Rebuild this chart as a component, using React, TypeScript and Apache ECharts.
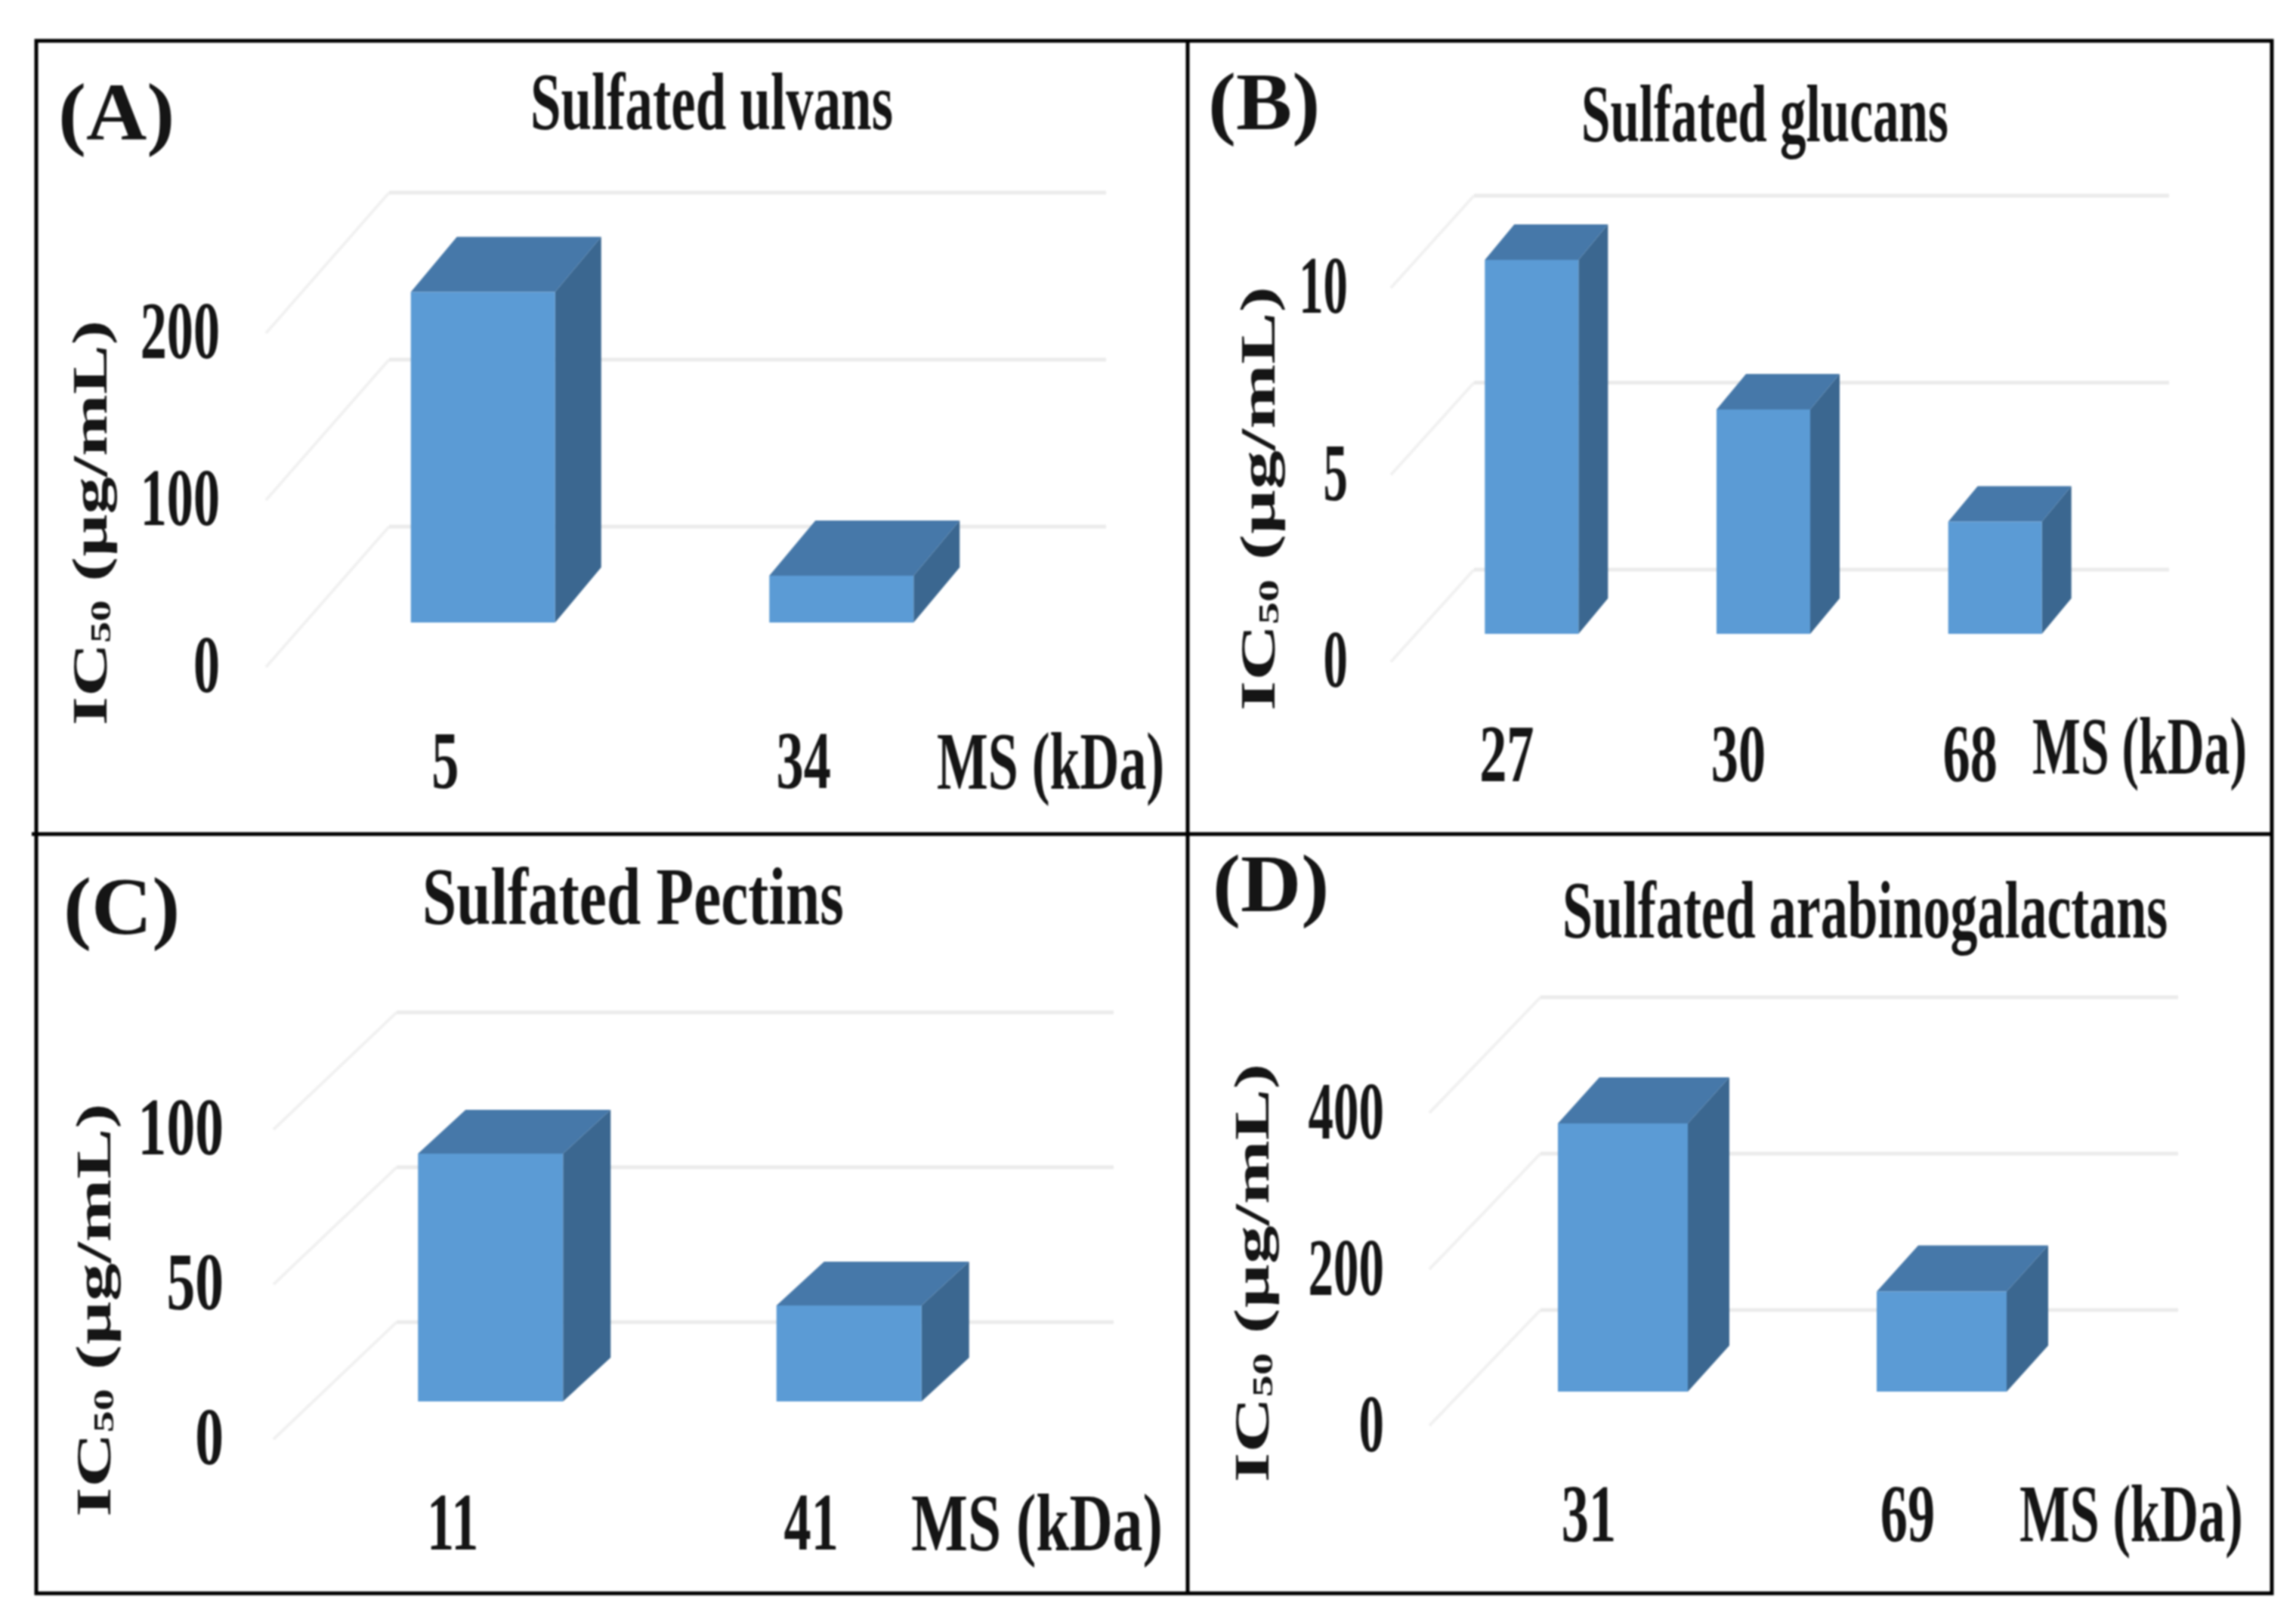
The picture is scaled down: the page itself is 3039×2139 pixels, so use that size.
import React, { useEffect, useRef } from "react";
import * as echarts from "echarts";

const categoriesA = ["5", "34"];
const valuesA = [198, 28];
const ticksA = [0, 100, 200];
const categoriesB = ["27", "30", "68"];
const valuesB = [10, 6, 3];
const ticksB = [0, 5, 10];
const categoriesC = ["11", "41"];
const valuesC = [80, 31];
const ticksC = [0, 50, 100];
const categoriesD = ["31", "69"];
const valuesD = [343, 128];
const ticksD = [0, 200, 400];

const titles = ["Sulfated ulvans", "Sulfated glucans", "Sulfated Pectins", "Sulfated arabinogalactans"];
const letters = ["(A)", "(B)", "(C)", "(D)"];
const xAxisName = "MS (kDa)";

const FONT = '"Liberation Serif"';
const INK = "#151515";
const FRONT = "#5B9BD5";
const TOP = "#4678A9";
const SIDE = "#3B6790";
const GRID = "#EBEBEB";
const GRID_DIAG = "#F1F1F1";

const layouts = [
  { categories: categoriesA, values: valuesA, ticks: ticksA, left: 352, top: 441, width: 949, height: 442, wallX: 163, wallY: -186, offX: 50, offY: -59, barW: 191, depthX: 61, depthY: -73, tickRight: 291, tickScale: 0.65, xBase: 1039, letterX: 77, letterY: 149, titleX: 702, titleBase: 167, titleScale: 0.675, msX: 1240, msBase: 1040, msScale: 0.665, nameX: 119, nameY: 692, nameScale: 1.49 },
  { categories: categoriesB, values: valuesB, ticks: ticksB, left: 1841, top: 381, width: 920, height: 495, wallX: 110, wallY: -122, offX: 33, offY: -37, barW: 124, depthX: 39, depthY: -47, tickRight: 1784, tickScale: 0.6, xBase: 1030, letterX: 1599, letterY: 135, titleX: 2093, titleBase: 183, titleScale: 0.64, msX: 2690, msBase: 1020, msScale: 0.627, nameX: 1665, nameY: 660, nameScale: 1.56 },
  { categories: categoriesC, values: valuesC, ticks: ticksC, left: 362, top: 1495, width: 949, height: 410, wallX: 163, wallY: -155, offX: 50, offY: -50, barW: 192, depthX: 63, depthY: -58, tickRight: 296, tickScale: 0.7, xBase: 2047, letterX: 84, letterY: 1200, titleX: 559, titleBase: 1219, titleScale: 0.753, msX: 1206, msBase: 2048, msScale: 0.735, nameX: 123, nameY: 1734, nameScale: 1.52 },
  { categories: categoriesD, values: valuesD, ticks: ticksD, left: 1892, top: 1473, width: 844, height: 414, wallX: 147, wallY: -153, offX: 45, offY: -45, barW: 172, depthX: 55, depthY: -61, tickRight: 1832, tickScale: 0.62, xBase: 2036, letterX: 1605, letterY: 1170, titleX: 2068, titleBase: 1237, titleScale: 0.666, msX: 2673, msBase: 2036, msScale: 0.653, nameX: 1657, nameY: 1685, nameScale: 1.54 },
];

const TEXT_FS = 108;
const TICK_LIFT = 3;
const midY = (base: number) => base - TEXT_FS * 0.3;

function label(text: string, x: number, y: number, scaleX: number, align: string) {
  return {
    type: "text",
    x,
    y,
    scaleX,
    silent: true,
    style: { text, font: `bold ${TEXT_FS}px ${FONT}`, fill: INK, align, verticalAlign: "middle" },
  };
}

function buildOption() {
  const grid: any[] = [];
  const xAxis: any[] = [];
  const yAxis: any[] = [];
  const series: any[] = [];
  const graphic: any[] = [];

  layouts.forEach((p, i) => {
    grid.push({ left: p.left, top: p.top, width: p.width, height: p.height, containLabel: false, show: false });
    xAxis.push({
      gridIndex: i,
      type: "category",
      data: p.categories,
      axisLine: { show: false },
      axisTick: { show: false },
      axisLabel: { show: false },
    });
    yAxis.push({
      gridIndex: i,
      type: "value",
      min: p.ticks[0],
      max: p.ticks[p.ticks.length - 1],
      interval: p.ticks[1],
      axisLine: { show: false },
      axisTick: { show: false },
      axisLabel: { show: false },
      splitLine: { show: false },
    });

    // Walls: gridlines and value labels, positioned through the value axis
    series.push({
      type: "custom",
      xAxisIndex: i,
      yAxisIndex: i,
      silent: true,
      z: 1,
      data: p.ticks.map((t) => [0, t]),
      encode: { x: 0, y: 1 },
      renderItem: (params: any, api: any) => {
        const cs = params.coordSys;
        const v = api.value(1);
        const y = api.coord([0, v])[1];
        const x0 = cs.x;
        const x1 = cs.x + cs.width;
        return {
          type: "group",
          children: [
            {
              type: "line",
              shape: { x1: x0, y1: y, x2: x0 + p.wallX, y2: y + p.wallY },
              style: { stroke: GRID_DIAG, lineWidth: 4 },
            },
            {
              type: "line",
              shape: { x1: x0 + p.wallX, y1: y + p.wallY, x2: x1 + p.wallX, y2: y + p.wallY },
              style: { stroke: GRID, lineWidth: 5 },
            },
            label(String(v), p.tickRight, y - TICK_LIFT, p.tickScale, "right"),
          ],
        };
      },
    });

    // 3D columns and category labels, positioned through both axes
    series.push({
      type: "custom",
      xAxisIndex: i,
      yAxisIndex: i,
      silent: true,
      z: 2,
      data: p.values.map((v, k) => [k, v]),
      encode: { x: 0, y: 1 },
      renderItem: (_params: any, api: any) => {
        const k = api.value(0);
        const top = api.coord([k, api.value(1)]);
        const base = api.coord([k, 0]);
        const xl = top[0] + p.offX - p.barW / 2;
        const xr = xl + p.barW;
        const yt = top[1] + p.offY;
        const yb = base[1] + p.offY;
        const dx = p.depthX;
        const dy = p.depthY;
        return {
          type: "group",
          children: [
            {
              type: "polygon",
              shape: { points: [[xr, yt], [xr, yb], [xr + dx, yb + dy], [xr + dx, yt + dy]] },
              style: { fill: SIDE },
            },
            {
              type: "polygon",
              shape: { points: [[xl, yt], [xr, yt], [xr + dx, yt + dy], [xl + dx, yt + dy]] },
              style: { fill: TOP },
            },
            { type: "rect", shape: { x: xl, y: yt, width: p.barW, height: yb - yt }, style: { fill: FRONT } },
            label(p.categories[k], top[0], midY(p.xBase), 0.67, "center"),
          ],
        };
      },
    });

    graphic.push(
      {
        type: "text",
        x: p.letterX,
        y: p.letterY,
        scaleX: 1.03,
        silent: true,
        style: { text: letters[i], font: `bold ${TEXT_FS}px ${FONT}`, fill: INK, align: "left", verticalAlign: "middle" },
      },
      {
        type: "text",
        x: p.titleX,
        y: midY(p.titleBase),
        scaleX: p.titleScale,
        silent: true,
        style: { text: titles[i], font: `bold ${TEXT_FS}px ${FONT}`, fill: INK, align: "left", verticalAlign: "middle" },
      },
      {
        type: "text",
        x: p.msX,
        y: midY(p.msBase),
        scaleX: p.msScale,
        silent: true,
        style: { text: xAxisName, font: `bold ${TEXT_FS}px ${FONT}`, fill: INK, align: "left", verticalAlign: "middle" },
      },
      {
        type: "text",
        x: p.nameX,
        y: p.nameY,
        rotation: Math.PI / 2,
        scaleX: p.nameScale,
        silent: true,
        style: {
          text: "{a|IC}{s|50}{a| (µg/mL)}",
          fill: INK,
          align: "center",
          verticalAlign: "middle",
          rich: {
            a: { font: `bold 66px ${FONT}`, fill: INK },
            s: { font: `bold 38px ${FONT}`, fill: INK, verticalAlign: "bottom" },
          },
        },
      }
    );
  });

  const frame = { stroke: "#000", lineWidth: 5 };
  graphic.push(
    { type: "rect", silent: true, shape: { x: 48, y: 54, width: 2959, height: 2055 }, style: { fill: "none", ...frame } },
    { type: "line", silent: true, shape: { x1: 42, y1: 1104, x2: 3005, y2: 1104 }, style: frame },
    { type: "line", silent: true, shape: { x1: 1572, y1: 54, x2: 1572, y2: 2109 }, style: frame }
  );

  return { animation: false, backgroundColor: "#fff", grid, xAxis, yAxis, series, graphic };
}

export default function App() {
  const ref = useRef<HTMLDivElement>(null);
  useEffect(() => {
    document.body.style.margin = "0";
    const chart = echarts.init(ref.current!, undefined, { renderer: "svg" });
    chart.setOption(buildOption() as any);
    return () => chart.dispose();
  }, []);
  return (
    <div
      ref={ref}
      style={{ position: "absolute", left: 0, top: 0, width: 3039, height: 2139, filter: "blur(1px)" }}
    />
  );
}
